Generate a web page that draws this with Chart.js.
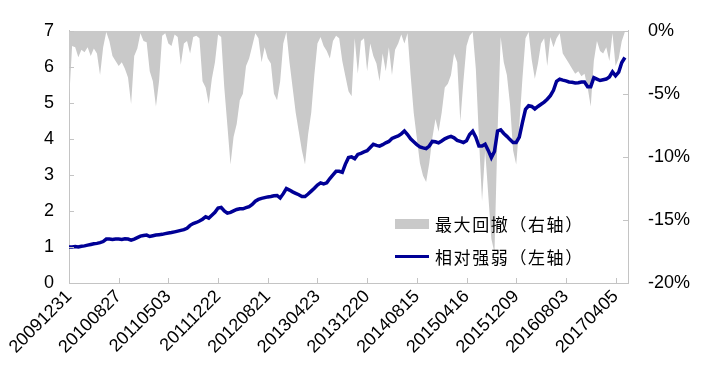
<!DOCTYPE html>
<html>
<head>
<meta charset="utf-8">
<script src="https://cdn.jsdelivr.net/npm/chart.js@4"></script>
<style>
  html, body { margin: 0; padding: 0; background: #fff; }
  .wrap { position: relative; width: 705px; height: 381px; }
  .legenda { position: absolute; left: 395px; top: 207px; font-family: 'Noto Sans CJK SC', sans-serif; font-size: 17px; letter-spacing: 1.6px; color: #000; }
  .item { display: flex; align-items: center; height: 33px; }
  .sw { width: 34px; margin-right: 6px; }
  .sw-area { height: 10px; background: #c9c9c9; }
  .sw-linha { height: 3.5px; background: #000096; }
</style>
</head>
<body>
<div class="wrap">
  <canvas id="grafico" width="705" height="381"></canvas>
  <div class="legenda">
    <div class="item"><span class="sw sw-area"></span>最大回撤（右轴）</div>
    <div class="item"><span class="sw sw-linha"></span>相对强弱（左轴）</div>
  </div>
</div>
<script>
// rótulos do eixo x (a cada 16 pontos)
const tickLabels = ['20091231', '20100827', '20110503', '20111222', '20120821', '20130423',
  '20131220', '20140815', '20150416', '20151209', '20160803', '20170405'];
const tickIndex = [0, 16, 32, 48, 64, 80, 96, 112, 128, 144, 160, 176];

// 相对强弱 (eixo esquerdo)
const relStrength = [
  1.00, 1.00, 1.01, 1.00, 1.02, 1.03, 1.05, 1.07, 1.09, 1.10,
  1.12, 1.15, 1.22, 1.22, 1.21, 1.22, 1.22, 1.21, 1.23, 1.22,
  1.19, 1.22, 1.26, 1.30, 1.32, 1.33, 1.29, 1.31, 1.33, 1.34,
  1.35, 1.37, 1.39, 1.40, 1.42, 1.44, 1.46, 1.48, 1.52, 1.60,
  1.65, 1.68, 1.72, 1.77, 1.84, 1.80, 1.88, 1.96, 2.08, 2.10,
  2.00, 1.94, 1.96, 2.00, 2.04, 2.06, 2.06, 2.09, 2.12, 2.18,
  2.27, 2.32, 2.35, 2.37, 2.39, 2.40, 2.42, 2.43, 2.36, 2.48,
  2.62, 2.58, 2.53, 2.49, 2.45, 2.40, 2.40, 2.47, 2.55, 2.63,
  2.72, 2.78, 2.75, 2.78, 2.90, 3.00, 3.10, 3.10, 3.07, 3.30,
  3.48, 3.50, 3.45, 3.57, 3.60, 3.64, 3.67, 3.76, 3.85, 3.82,
  3.80, 3.84, 3.89, 3.93, 4.01, 4.05, 4.08, 4.14, 4.22, 4.12,
  4.00, 3.92, 3.84, 3.78, 3.75, 3.73, 3.80, 3.93, 3.92, 3.89,
  3.94, 4.00, 4.04, 4.07, 4.03, 3.96, 3.93, 3.90, 3.95, 4.12,
  4.21, 4.05, 3.80, 3.80, 3.85, 3.68, 3.48, 3.65, 4.22, 4.25,
  4.15, 4.07, 3.98, 3.90, 3.90, 4.05, 4.45, 4.82, 4.92, 4.90,
  4.83, 4.90, 4.96, 5.02, 5.10, 5.20, 5.35, 5.60, 5.66, 5.63,
  5.61, 5.58, 5.57, 5.55, 5.56, 5.58, 5.58, 5.45, 5.45, 5.70,
  5.66, 5.62, 5.64, 5.66, 5.72, 5.86, 5.75, 5.85, 6.12, 6.26
];

// 最大回撤 em % (eixo direito)
const drawdown = [
  -5.6, -1.2, -1.3, -2.1, -1.5, -1.7, -1.3, -2.0, -1.4, -1.8,
  -3.5, -1.3, -0.1, -0.8, -2.0, -2.4, -2.8, -2.5, -3.0, -3.7,
  -5.8, -2.0, -1.4, -0.2, -0.8, -0.9, -3.2, -4.0, -6.0, -4.0,
  -0.4, -0.2, -1.0, -1.2, -0.3, -0.5, -2.7, -1.0, -0.8, -1.8,
  -0.5, -0.4, -0.6, -4.0, -4.5, -5.8, -3.8, -2.5, -0.3, -0.5,
  -4.5, -7.5, -10.6, -8.4, -7.4, -5.5, -5.0, -2.8, -2.2, -1.2,
  -0.2, -0.6, -2.5, -1.3, -2.2, -2.6, -5.0, -5.5, -4.0, -1.0,
  -0.1, -2.5, -4.5, -6.5, -8.0, -9.5, -10.6, -8.2, -6.5, -3.5,
  -1.0, -0.5, -1.2, -1.6, -2.2, -0.8, -0.4, -0.6, -2.4, -3.6,
  -4.8, -5.2, -0.6, -3.4, -0.8, -0.6, -3.2, -1.0, -2.0, -2.6,
  -4.0, -1.8, -3.2, -1.3, -3.5, -1.5, -1.0, -0.3, -1.0, -0.2,
  -3.5, -6.5, -8.5, -10.5, -11.5, -12.0, -10.5, -8.5, -7.0, -8.0,
  -6.5, -4.5, -4.2, -3.5, -1.8, -2.5, -7.2, -4.0, -1.2, -0.4,
  -0.1, -3.0, -8.5, -13.5, -9.5, -13.0, -16.5, -17.6, -8.0, -0.5,
  -2.5, -3.5, -5.8, -9.5, -10.6, -7.5, -3.8, -0.6, -0.1, -2.3,
  -3.8, -2.6, -1.0, -0.6, -2.8, -0.5, -1.3, -0.6, -0.2, -1.8,
  -2.2, -2.6, -3.0, -3.4, -3.2, -3.6, -3.4, -4.5, -6.0, -2.4,
  -0.8, -1.6, -1.8, -1.3, -2.4, -0.2, -2.8, -2.2, -0.8, -0.1
];

const leftTicks = [0, 1, 2, 3, 4, 5, 6, 7];
const rightTicks = [-20, -15, -10, -5, 0];

const fonteEixo = { family: "'Liberation Sans', Arial, sans-serif", size: 18 };
const corEixo = '#c4c4c4';

// marcas de tick voltadas para dentro, como no original
const innerTicks = {
  id: 'innerTicks',
  afterDraw(chart) {
    const { ctx, chartArea: a, scales } = chart;
    const len = 5;
    ctx.save();
    ctx.strokeStyle = corEixo;
    ctx.lineWidth = 1;
    ctx.beginPath();
    tickIndex.forEach(v => {
      const x = Math.round(scales.x.getPixelForValue(v)) + 0.5;
      ctx.moveTo(x, a.bottom); ctx.lineTo(x, a.bottom - len);
    });
    leftTicks.forEach(v => {
      const y = Math.round(scales.y.getPixelForValue(v)) + 0.5;
      ctx.moveTo(a.left, y); ctx.lineTo(a.left + len, y);
    });
    rightTicks.forEach(v => {
      const y = Math.round(scales.y2.getPixelForValue(v)) + 0.5;
      ctx.moveTo(a.right, y); ctx.lineTo(a.right - len, y);
    });
    ctx.stroke();
    ctx.restore();
  }
};

new Chart(document.getElementById('grafico'), {
  type: 'line',
  data: {
    datasets: [
      {
        label: '相对强弱（左轴）',
        data: relStrength.map((v, i) => ({ x: i, y: v })),
        yAxisID: 'y',
        borderColor: '#000096',
        borderWidth: 3.5,
        pointRadius: 0,
        tension: 0,
        fill: false
      },
      {
        label: '最大回撤（右轴）',
        data: drawdown.map((v, i) => ({ x: i, y: v })),
        yAxisID: 'y2',
        borderWidth: 0,
        borderColor: 'rgba(0,0,0,0)',
        backgroundColor: '#c9c9c9',
        pointRadius: 0,
        tension: 0,
        fill: 'end'
      }
    ]
  },
  options: {
    responsive: false,
    animation: false,
    layout: { padding: { top: 27, left: 0, right: 0, bottom: 0 } },
    plugins: { legend: { display: false }, tooltip: { enabled: false } },
    scales: {
      x: {
        type: 'linear',
        min: 0,
        max: 180,
        grid: { display: false, drawTicks: false },
        border: { display: true, color: corEixo, width: 1 },
        afterBuildTicks: s => { s.ticks = tickIndex.map(v => ({ value: v })); },
        afterFit: s => { s.height = 98; },
        ticks: {
          autoSkip: false,
          maxRotation: 45,
          minRotation: 45,
          padding: 3,
          color: '#000',
          font: fonteEixo,
          callback: v => tickLabels[tickIndex.indexOf(v)]
        }
      },
      y: {
        position: 'left',
        min: 0,
        max: 7,
        grid: { display: false, drawTicks: false },
        border: { display: true, color: corEixo, width: 1 },
        afterBuildTicks: s => { s.ticks = leftTicks.map(v => ({ value: v })); },
        afterFit: s => { s.width = 69; },
        ticks: { padding: 15, color: '#000', font: fonteEixo }
      },
      y2: {
        position: 'right',
        min: -20,
        max: 0,
        grid: { display: false, drawTicks: false },
        border: { display: true, color: corEixo, width: 1 },
        afterBuildTicks: s => { s.ticks = rightTicks.map(v => ({ value: v })); },
        afterFit: s => { s.width = 77; },
        ticks: { padding: 20, color: '#000', font: fonteEixo, callback: v => v + '%' }
      }
    }
  },
  plugins: [innerTicks]
});
</script>
</body>
</html>
